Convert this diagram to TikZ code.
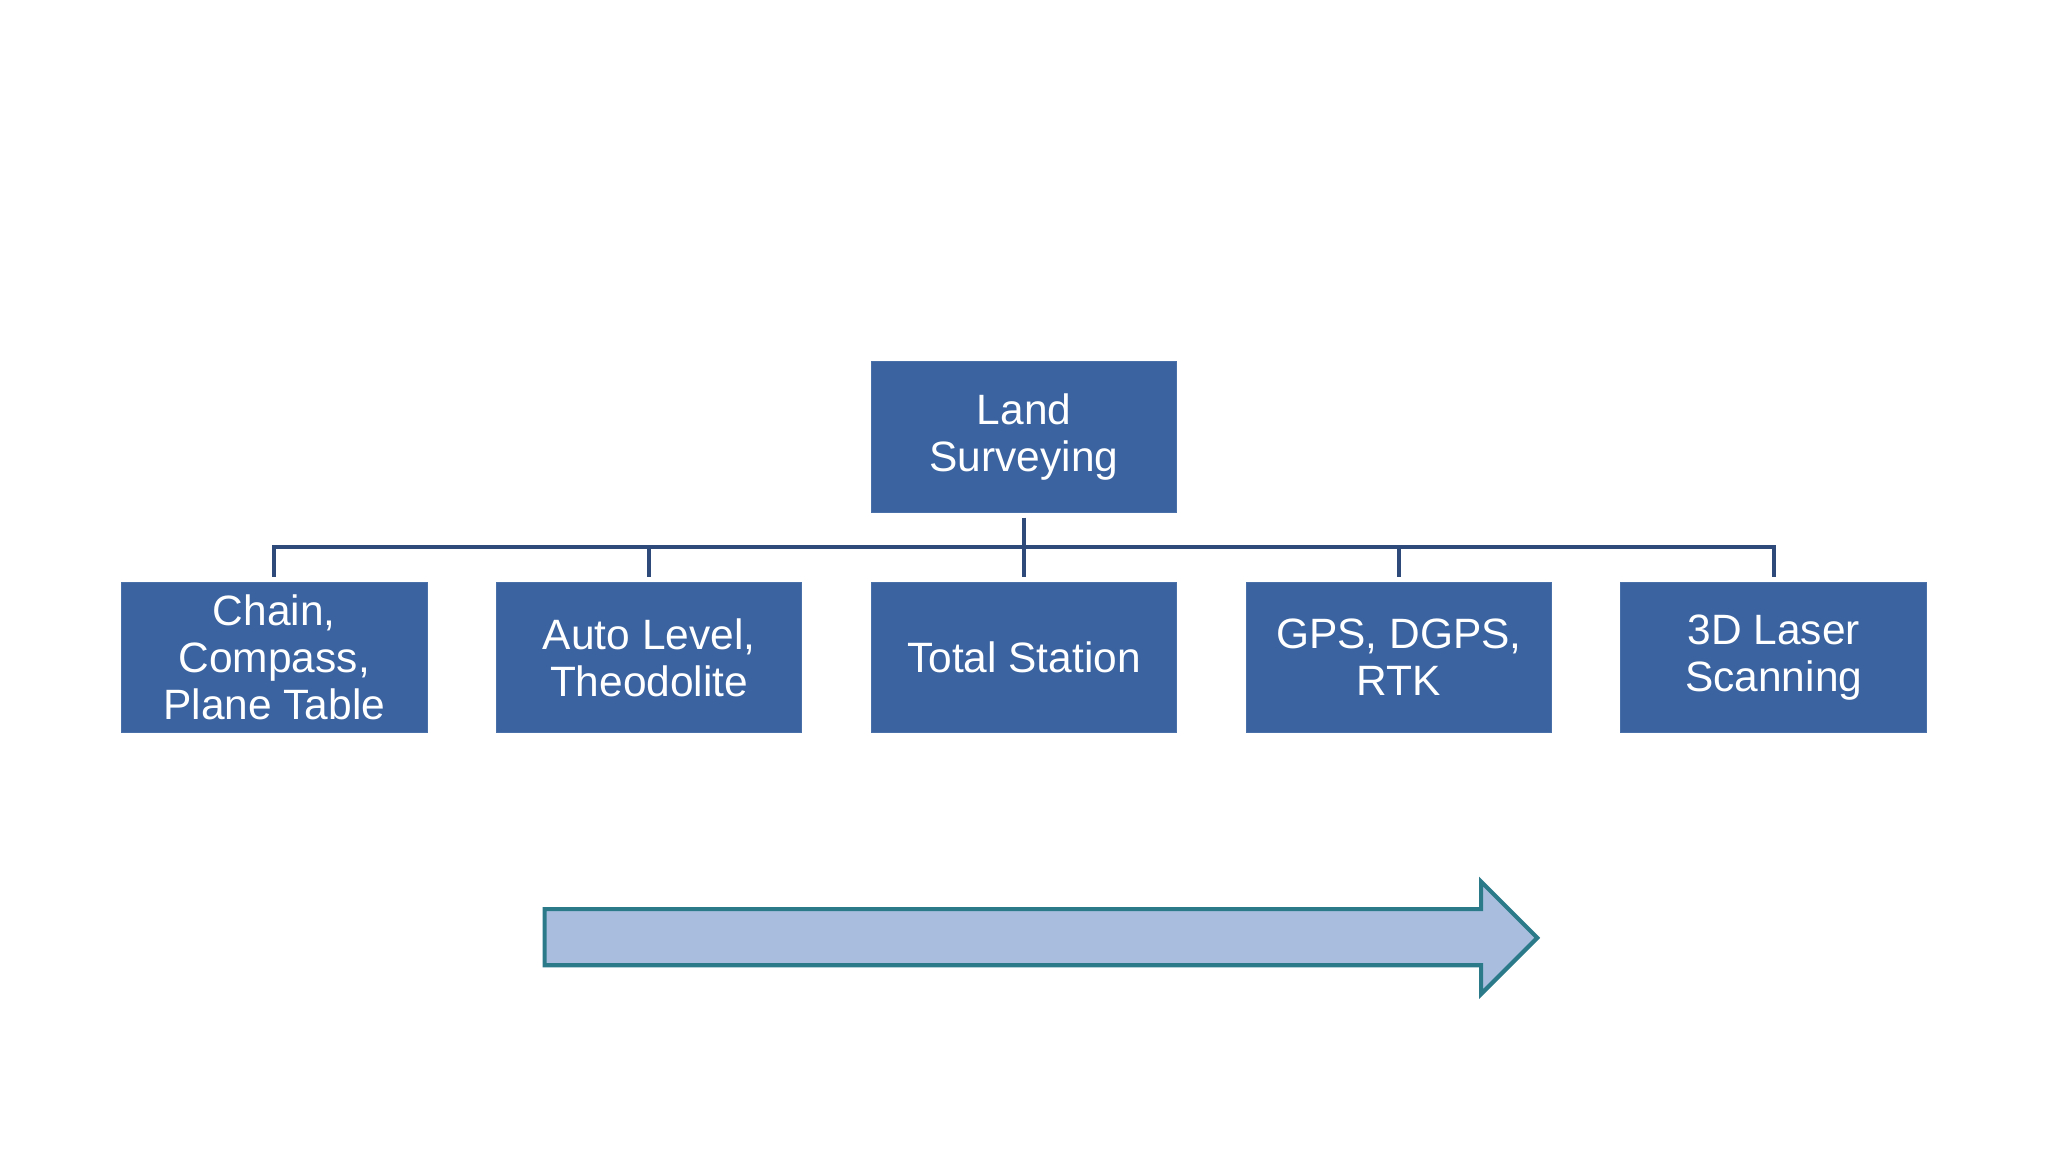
\documentclass[tikz,border=0pt]{standalone}
\usepackage{fontspec}
\setmainfont{Liberation Sans}
\usetikzlibrary{positioning}
\definecolor{boxblue}{HTML}{3A63A0}
\definecolor{boxedge}{HTML}{4A70AA}
\definecolor{linenavy}{HTML}{2E4A7A}
\definecolor{arrowfill}{HTML}{A9BEDF}
\definecolor{arrowedge}{HTML}{2B7A8A}
\begin{document}
\begin{tikzpicture}[x=0.02cm, y=-0.02cm,
    box/.style={draw=boxedge, fill=boxblue, text=white, minimum width=4.68cm,
        minimum height=2.3cm, align=center, font=\fontsize{18.5}{20.5}\selectfont,
        inner sep=1pt},
    link/.style={draw=linenavy, line width=1.6pt}]
    \useasboundingbox (0,0) rectangle (1568,882);

    \node[box] (land) at (784,334.5) {Land\\Surveying};
    \node[box] (chain) at (210,503.5) {Chain,\\Compass,\\Plane Table};
    \node[box] (auto) at (497,503.5) {Auto Level,\\Theodolite};
    \node[box] (total) at (784,503.5) {Total Station};
    \node[box] (gps) at (1071,503.5) {GPS, DGPS,\\RTK};
    \node[box] (laser) at (1358,503.5) {3D Laser\\Scanning};

    \coordinate (bus) at (784,419);
    \draw[link] ([yshift=-0.08cm]land.south) -- (bus);
    \draw[link] ([yshift=0.08cm]chain.north) |- (bus) -| ([yshift=0.08cm]laser.north);
    \foreach \n in {auto,total,gps}
        \draw[link] ([yshift=0.08cm]\n.north) -- (\n.north |- bus);

    % progress arrow
    \draw[draw=arrowedge, fill=arrowfill, line width=1.8pt]
        (417,696) -- (1134,696) -- (1134,675) -- (1177,718) -- (1134,761)
        -- (1134,739) -- (417,739) -- cycle;
\end{tikzpicture}
\end{document}
